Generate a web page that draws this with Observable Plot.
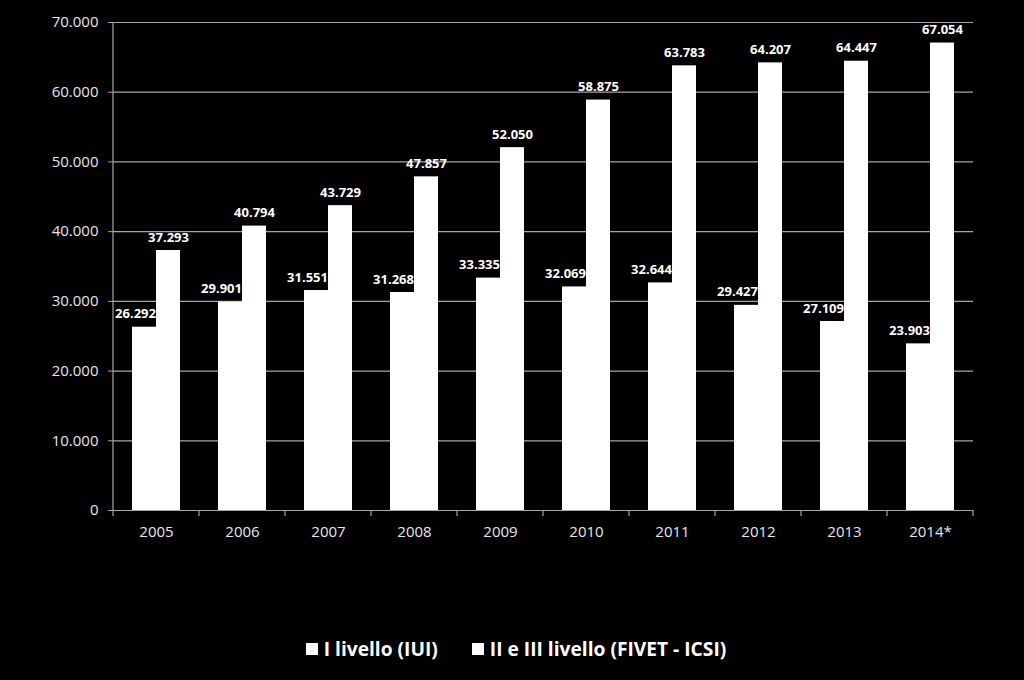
<!DOCTYPE html>
<html>
<head>
<meta charset="utf-8">
<script src="https://cdn.jsdelivr.net/npm/d3@7"></script>
<script src="https://cdn.jsdelivr.net/npm/@observablehq/plot@0.6"></script>
<style>
  html, body { margin: 0; padding: 0; background: #000; }
  #wrap { width: 1024px; height: 680px; background: #000; position: relative; overflow: hidden; }
  #legend { position: absolute; left: 0; top: 635px; width: 1024px; display: flex; justify-content: center;
    font-family: "Open Sans", sans-serif; font-weight: bold; font-size: 19.2px; color: #fff; padding-left: 8px; box-sizing: border-box; }
  .item { display: flex; align-items: center; margin: 0 17px; }
  .sw { width: 12px; height: 12px; background: #fff; margin-right: 6px; }
</style>
</head>
<body>
<div id="wrap">
  <div id="chart"></div>
  <div id="legend"></div>
</div>
<script>
const years = ["2005", "2006", "2007", "2008", "2009", "2010", "2011", "2012", "2013", "2014*"];
const seriesNames = ["I livello (IUI)", "II e III livello (FIVET - ICSI)"];
const livello1 = [26292, 29901, 31551, 31268, 33335, 32069, 32644, 29427, 27109, 23903];
const livello23 = [37293, 40794, 43729, 47857, 52050, 58875, 63783, 64207, 64447, 67054];
const yTicks = [0, 10000, 20000, 30000, 40000, 50000, 60000, 70000];

const table = [];
years.forEach((y, i) => {
  table.push({year: y, series: seriesNames[0], value: livello1[i]});
  table.push({year: y, series: seriesNames[1], value: livello23[i]});
});

const locale = d3.formatLocale({decimal: ",", thousands: ".", grouping: [3], currency: ["€", ""]});
const fmt = locale.format(",d");

const chart = Plot.plot({
  width: 1024,
  height: 600,
  marginLeft: 110,
  marginRight: 48,
  marginTop: 22,
  marginBottom: 90,
  style: {background: "#000", color: "#e6e6e6", fontFamily: "Open Sans", fontSize: "15px"},
  fx: {domain: years, paddingInner: 0, paddingOuter: 0, label: null},
  x: {domain: seriesNames, paddingInner: 0, paddingOuter: 0.755, axis: null},
  y: {domain: [0, 70000], label: null},
  marks: [
    Plot.ruleY(yTicks, {y: d => d, stroke: "#a6a6a6", strokeWidth: 1.2}),
    Plot.barY(table, {fx: "year", x: "series", y: "value", fill: "#fff", inset: 0}),
    Plot.text(table.filter(d => d.series === seriesNames[0]), {
      fx: "year", x: "series", y: "value", text: d => fmt(d.value),
      fill: "#fff", fontWeight: "bold", fontSize: 13, fontFamily: "Open Sans",
      lineAnchor: "bottom", dy: -9, dx: -9
    }),
    Plot.text(table.filter(d => d.series === seriesNames[1]), {
      fx: "year", x: "series", y: "value", text: d => fmt(d.value),
      fill: "#fff", fontWeight: "bold", fontSize: 13, fontFamily: "Open Sans",
      lineAnchor: "bottom", dy: -9
    }),
    Plot.axisY({ticks: yTicks, tickFormat: fmt, tickSize: 5, tickPadding: 10, stroke: "#a6a6a6", label: null, fill: "#e6e6e6"}),
    Plot.axisFx({anchor: "bottom", tickSize: 0, tickPadding: 16, label: null, fill: "#e6e6e6"})
  ]
});

document.getElementById("chart").appendChild(chart);

// axis line and category separator ticks, positioned through the plot's own scales
const fxs = chart.scale("fx");
const ys = chart.scale("y");
const svg = d3.select(chart);
const x0 = fxs.apply(years[0]);
const xEnd = fxs.apply(years[years.length - 1]) + fxs.bandwidth;
const g = svg.append("g").attr("stroke", "#a6a6a6").attr("stroke-width", 1.2);
g.append("line").attr("x1", x0).attr("x2", x0).attr("y1", ys.apply(0)).attr("y2", ys.apply(70000));
const bounds = years.map(y => fxs.apply(y)).concat([xEnd]);
bounds.forEach(b => {
  g.append("line").attr("x1", b).attr("x2", b).attr("y1", ys.apply(0)).attr("y2", ys.apply(0) + 6);
});

const legend = document.getElementById("legend");
seriesNames.forEach(n => {
  const it = document.createElement("div");
  it.className = "item";
  const sw = document.createElement("div");
  sw.className = "sw";
  const t = document.createElement("span");
  t.textContent = n;
  it.appendChild(sw);
  it.appendChild(t);
  legend.appendChild(it);
});
</script>
</body>
</html>
